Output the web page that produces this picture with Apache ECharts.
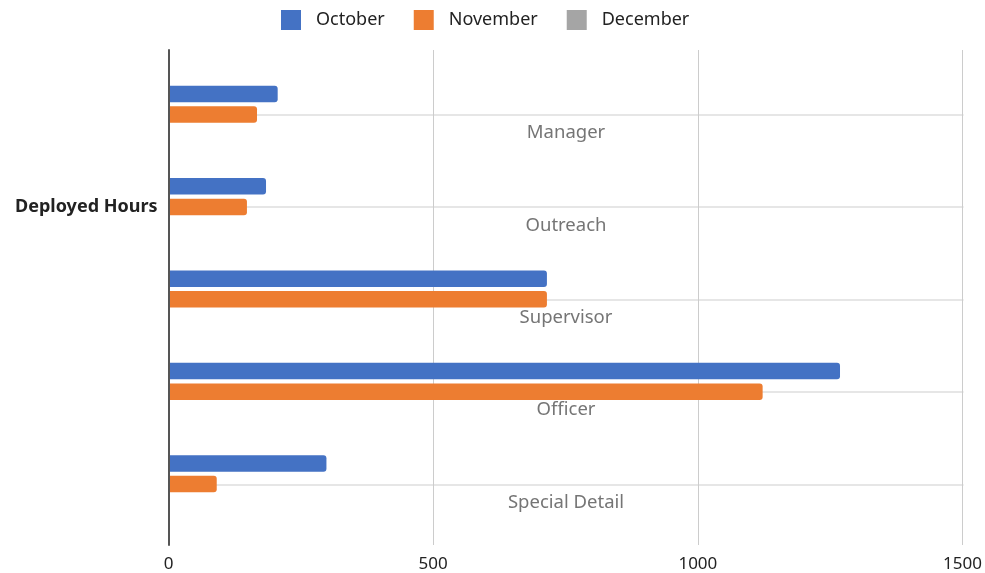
<!DOCTYPE html>
<html><head><meta charset="utf-8">
<script src="https://cdn.jsdelivr.net/npm/echarts@6/dist/echarts.min.js"></script>
<style>html,body{margin:0;padding:0;background:#fff}#c{width:985px;height:573px}</style>
</head><body><div id="c"></div>
<script>
const categories = ['Manager', 'Outreach', 'Supervisor', 'Officer', 'Special Detail'];
const octoberValues = [206, 184, 714, 1267, 298];
const novemberValues = [167, 148, 714, 1121, 91];
const decemberValues = [null, null, null, null, null];
const rowLabels = ['', 'Deployed Hours', '', '', ''];
const rowIndex = [0, 1, 2, 3, 4];
const xMin = 0, xMax = 1500, xStep = 500;

const FONT = 'Noto Sans';
const L = 168.5, W = 795;
const chart = echarts.init(document.getElementById('c'), null, {renderer: 'canvas'});
const hiddenX = i => ({type: 'value', gridIndex: i, min: xMin, max: xMax, interval: xStep, show: false});

chart.setOption({
  animation: false,
  textStyle: {fontFamily: FONT},
  color: ['#4472C4', '#ED7D31', '#A5A5A5'],
  legend: {
    top: 10, left: 281, padding: 0,
    icon: 'rect', itemWidth: 20, itemHeight: 20, itemGap: 29,
    textStyle: {fontFamily: FONT, fontSize: 18, color: '#222', padding: [0, 0, 0, 10]},
    data: ['October', 'November', 'December']
  },
  grid: [
    {left: L, width: W, top: 50, height: 495},
    {left: L, width: W, top: 58, height: 462},
    {left: L, width: W, top: 114.7, height: 369.6},
    {left: L, width: W, top: 86.8, height: 462}
  ],
  xAxis: [
    {type: 'value', gridIndex: 0, min: xMin, max: xMax, interval: xStep,
     axisLine: {show: false}, axisTick: {show: false},
     axisLabel: {fontFamily: FONT, fontSize: 17, color: '#222', margin: 11, formatter: v => String(v)},
     splitLine: {show: true, lineStyle: {color: '#cccccc', width: 1}}},
    hiddenX(1), hiddenX(2), hiddenX(3)
  ],
  yAxis: [
    {type: 'category', gridIndex: 0, data: categories, inverse: true, z: 10,
     axisLine: {show: true, lineStyle: {color: '#555', width: 2}},
     axisTick: {show: false}, axisLabel: {show: false}, splitLine: {show: false}},
    {type: 'category', gridIndex: 1, data: categories, inverse: true, show: false},
    {type: 'value', gridIndex: 2, min: rowIndex[0], max: rowIndex[rowIndex.length - 1], interval: 1, inverse: true,
     axisLine: {show: false}, axisTick: {show: false},
     axisLabel: {fontFamily: FONT, fontSize: 18, fontWeight: 'bold', color: '#222', margin: 11,
                 formatter: v => rowLabels[v] || ''},
     splitLine: {show: true, lineStyle: {color: '#e6e6e6', width: 2}}},
    {type: 'category', gridIndex: 3, data: categories, inverse: true,
     axisLine: {show: false}, axisTick: {show: false}, splitLine: {show: false},
     axisLabel: {inside: true, align: 'center', margin: 397.5, fontFamily: FONT, fontSize: 18.5, color: '#757575'}}
  ],
  series: [
    {name: 'October', type: 'bar', xAxisIndex: 1, yAxisIndex: 1, data: octoberValues,
     barWidth: 16.5, barGap: '25%', itemStyle: {borderRadius: [0, 3, 3, 0]}},
    {name: 'November', type: 'bar', xAxisIndex: 1, yAxisIndex: 1, data: novemberValues,
     barWidth: 16.5, barGap: '25%', itemStyle: {borderRadius: [0, 3, 3, 0]}},
    {name: 'December', type: 'bar', xAxisIndex: 0, yAxisIndex: 0, data: decemberValues}
  ]
});
</script></body></html>
